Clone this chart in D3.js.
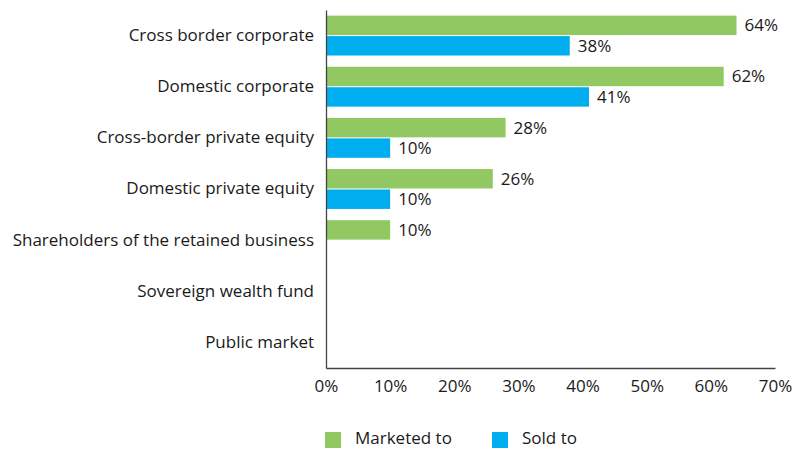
<!DOCTYPE html>
<html><head><meta charset="utf-8">
<script src="https://cdn.jsdelivr.net/npm/d3@7"></script>
<style>
body{margin:0;background:#fff;}
text{font-family:"Open Sans",sans-serif;fill:#1a1a1a;}
</style></head>
<body><svg id="c" width="796" height="449"></svg>
<script>
const categories = ["Cross border corporate","Domestic corporate","Cross-border private equity","Domestic private equity","Shareholders of the retained business","Sovereign wealth fund","Public market"];
const marketedTo = [64,62,28,26,10,null,null];
const soldTo = [38,41,10,10,null,null,null];
const seriesNames = ["Marketed to","Sold to"];
const xTicks = [0,10,20,30,40,50,60,70];
const colors = ["#92c862","#00aeef"];

const FS = 17;
const svg = d3.select("#c");
const mLeft = 326, mRight = 775, mTop = 10, mBottom = 368;
const x = d3.scaleLinear().domain([0,70]).range([mLeft,mRight]);
const y = d3.scaleBand().domain(categories).range([mTop,mBottom]).paddingInner(0.22).paddingOuter(0.11);
const sub = d3.scaleBand().domain([0,1]).range([0,y.bandwidth()]).paddingInner(0.05);

const series = [marketedTo, soldTo];
series.forEach((vals,si)=>{
  const g = svg.append("g");
  categories.forEach((c,i)=>{
    const v = vals[i];
    if(v==null) return;
    g.append("rect").attr("x",x(0)+1).attr("y",y(c)+sub(si))
      .attr("width",x(v)-x(0)-1).attr("height",sub.bandwidth()).attr("fill",colors[si]);
    g.append("text").attr("x",x(v)+8).attr("y",y(c)+sub(si)+sub.bandwidth()/2)
      .attr("dy","0.35em").attr("font-size",FS).text(v+"%");
  });
});

// axes
const xAxis = d3.axisBottom(x).tickValues(xTicks).tickFormat(d=>d+"%").tickSize(0).tickPadding(12);
const gx = svg.append("g").attr("transform",`translate(0,${mBottom})`).call(xAxis);
gx.select(".domain").attr("stroke","#444").attr("stroke-width",1.3);
gx.selectAll("text").attr("font-size",FS).attr("font-family","Open Sans").attr("fill","#1a1a1a");

const yAxis = d3.axisLeft(y).tickSize(0).tickPadding(12);
const gy = svg.append("g").attr("transform",`translate(${mLeft},0)`).call(yAxis);
gy.select(".domain").attr("stroke","#444").attr("stroke-width",1.3);
gy.selectAll("text").attr("font-size",FS).attr("font-family","Open Sans").attr("fill","#1a1a1a");

// legend
const leg = svg.append("g");
const legX = [325,492];
seriesNames.forEach((n,i)=>{
  leg.append("rect").attr("x",legX[i]).attr("y",432).attr("width",16).attr("height",16).attr("fill",colors[i]);
  leg.append("text").attr("x",legX[i]+30).attr("y",438).attr("dy","0.35em").attr("font-size",FS).text(n);
});
</script></body></html>
